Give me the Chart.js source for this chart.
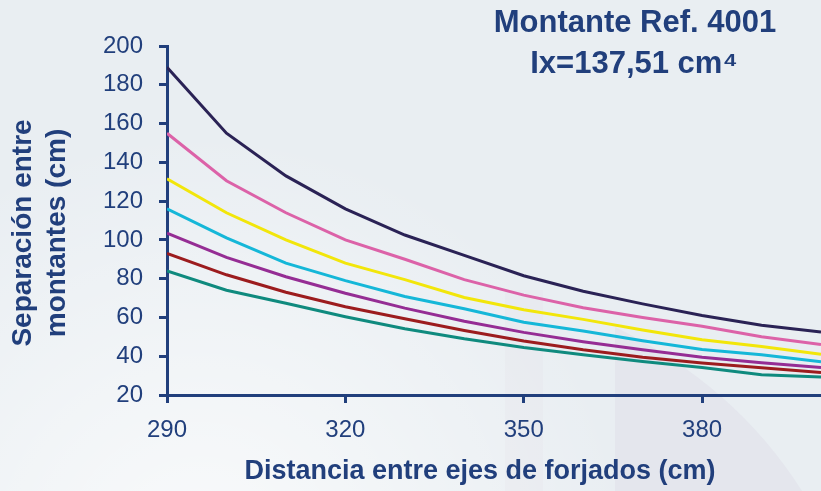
<!DOCTYPE html>
<html>
<head>
<meta charset="utf-8">
<script src="https://cdn.jsdelivr.net/npm/chart.js@4.4.1/dist/chart.umd.min.js"></script>
<style>
html,body{margin:0;padding:0;background:#e9eef2;}
#wrap{width:821px;height:491px;position:relative;}
</style>
</head>
<body>
<div id="wrap"><canvas id="c"></canvas></div>
<script>
// ---- data ----
const distancias = [290, 300, 310, 320, 330, 340, 350, 360, 370, 380, 390, 400];
const serieA = [189, 155, 133, 116, 102.5, 92, 81.5, 73.5, 67, 61, 56, 52.5];
const serieB = [155, 130.5, 114, 100, 90, 79.5, 71.5, 65, 60, 55.5, 50, 46];
const serieC = [131.5, 114, 100, 88, 79.5, 70.3, 64, 59, 53.5, 48.5, 45, 41];
const serieD = [116, 101, 88, 79, 70.8, 64.5, 57.5, 53, 48, 43.5, 40.8, 37.2];
const serieE = [103.5, 91, 81, 72.5, 64.8, 58, 52.3, 47.5, 43.3, 39.5, 36.6, 34.2];
const serieF = [93, 82, 73, 65.5, 59.3, 53.3, 47.8, 43.3, 39.5, 36.5, 34, 31.6];
const serieG = [84, 74, 67.3, 60.4, 54.2, 49, 44.5, 40.8, 37.3, 34.2, 30.5, 29.3];
const xTicks = [290, 320, 350, 380];
const yTicks = [20, 40, 60, 80, 100, 120, 140, 160, 180, 200];
const titleLines = ['Montante Ref. 4001', 'Ix=137,51 cm\u2074'];
const xTitle = 'Distancia entre ejes de forjados (cm)';
const yTitle = ['Separación entre', 'montantes (cm)'];

// ---- styles ----
const series = [serieA, serieB, serieC, serieD, serieE, serieF, serieG];
const lineColors = ['#2a2255', '#dc62a8', '#f2e60a', '#15b7d8', '#952d94', '#9c1c1e', '#0f8a7e'];
const ink = '#213f7c';
const FONT = "'Liberation Sans', Arial, sans-serif";

const bgPlugin = {
  id: 'bg',
  beforeDraw(chart) {
    const ctx = chart.ctx, w = chart.width, h = chart.height;
    ctx.save();
    ctx.fillStyle = '#e9eef2';
    ctx.fillRect(0, 0, w, h);
    let g = ctx.createRadialGradient(200, 560, 20, 200, 560, 430);
    g.addColorStop(0, 'rgba(255,255,255,0.7)');
    g.addColorStop(1, 'rgba(255,255,255,0)');
    ctx.fillStyle = g;
    ctx.fillRect(0, 0, w, h);
    ctx.fillStyle = 'rgba(226,223,234,0.22)';
    ctx.fillRect(505, 290, 38, h - 290);
    ctx.fillStyle = 'rgba(220,218,230,0.4)';
    ctx.beginPath();
    ctx.moveTo(615, 327);
    ctx.quadraticCurveTo(735, 385, 802, h);
    ctx.lineTo(615, h);
    ctx.closePath();
    ctx.fill();
    ctx.restore();
  }
};

const textPlugin = {
  id: 'texts',
  afterDraw(chart) {
    const ctx = chart.ctx;
    ctx.save();
    ctx.fillStyle = ink;
    ctx.textAlign = 'center';
    ctx.textBaseline = 'middle';
    ctx.font = 'bold 31px ' + FONT;
    ctx.fillText(titleLines[0], 635, 23);
    ctx.fillText(titleLines[1], 634, 64);
    ctx.font = 'bold 27px ' + FONT;
    ctx.fillText(xTitle, 480, 472);
    ctx.translate(0, 233);
    ctx.rotate(-Math.PI / 2);
    ctx.font = 'bold 28px ' + FONT;
    ctx.fillText(yTitle[0], 0, 23);
    ctx.fillText(yTitle[1], 0, 57);
    ctx.restore();
  }
};

const datasets = series.map((s, i) => ({
  label: 'Serie ' + (i + 1),
  data: distancias.map((x, j) => ({ x: x, y: s[j] })),
  borderColor: lineColors[i],
  backgroundColor: lineColors[i],
  borderWidth: 3,
  pointRadius: 0,
  tension: 0,
  fill: false
}));

new Chart(document.getElementById('c'), {
  type: 'line',
  data: { datasets },
  plugins: [bgPlugin, textPlugin],
  options: {
    responsive: true,
    maintainAspectRatio: false,
    animation: false,
    layout: { padding: { top: 46, left: 0, right: 0, bottom: 0 } },
    plugins: { legend: { display: false }, tooltip: { enabled: false }, title: { display: false } },
    scales: {
      x: {
        type: 'linear',
        min: 290, max: 400,
        afterBuildTicks: (scale) => { scale.ticks = xTicks.map(v => ({ value: v })); },
        afterFit: (scale) => { scale.height = 96; },
        border: { display: true, color: ink, width: 3 },
        grid: { display: true, drawOnChartArea: false, drawTicks: true, tickLength: 8, color: ink, lineWidth: 3 },
        ticks: { color: ink, font: { family: FONT, size: 24 }, padding: 13, maxRotation: 0, autoSkip: false }
      },
      y: {
        type: 'linear',
        min: 20, max: 200,
        afterBuildTicks: (scale) => { scale.ticks = yTicks.map(v => ({ value: v })); },
        afterFit: (scale) => { scale.width = 167; },
        border: { display: true, color: ink, width: 3 },
        grid: { display: true, drawOnChartArea: false, drawTicks: true, tickLength: 8, color: ink, lineWidth: 3 },
        ticks: { color: ink, font: { family: FONT, size: 24 }, padding: 16, autoSkip: false }
      }
    }
  }
});
</script>
</body>
</html>
